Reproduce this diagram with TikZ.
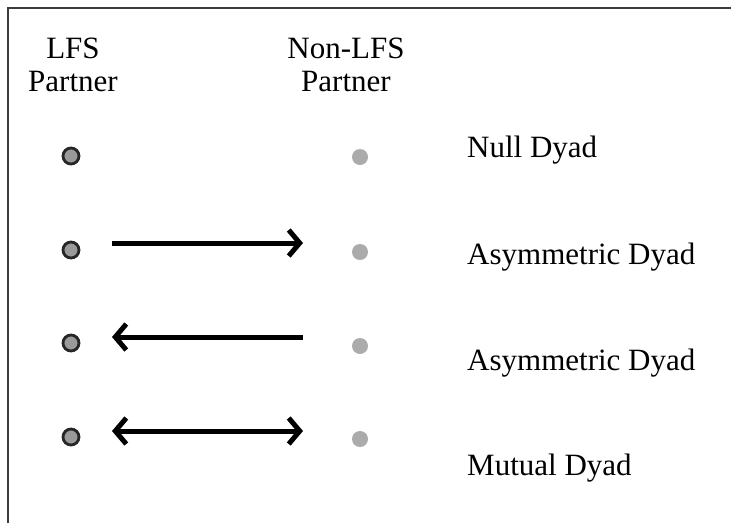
\documentclass[tikz,border=0pt]{standalone}
\usepackage{fontspec}
\setmainfont{Liberation Serif}
\usetikzlibrary{arrows.meta}

\definecolor{framegray}{HTML}{3C3C3C}
\definecolor{lfsfill}{HTML}{9A9A9A}
\definecolor{nonfill}{HTML}{ABABAB}

\tikzset{
  lfsdot/.style={circle,draw=black!85,line width=2.8pt,fill=lfsfill,minimum size=16pt,inner sep=0pt,outer sep=0pt},
  nondot/.style={circle,fill=nonfill,minimum size=16pt,inner sep=0pt,outer sep=0pt},
  tie/.style={line width=5pt,shorten <=33pt,shorten >=49pt},
  barb/.tip={Straight Barb[length=11pt,width=26pt]},
  dyad/.style={anchor=base west,inner sep=0pt}
}

\begin{document}
\begin{tikzpicture}[x=1pt,y=-1pt,every text node part/.style={align=center},
    font=\fontsize{31}{33}\selectfont]

    \useasboundingbox (0,0) rectangle (731,523);

    % --------------------------------------------------------- %
    % ------------- frame (left and top only)
    % --------------------------------------------------------- %
    \draw[framegray,line width=2pt] (8,523) -- (8,8) -- (731,8);

    % --------------------------------------------------------- %
    % ------------- column heads
    % --------------------------------------------------------- %
    \node[inner sep=0pt] (lfshead) at (73,65) {LFS\\Partner};
    \node[inner sep=0pt] (nonhead) at (346,65) {Non-LFS\\Partner};

    % --------------------------------------------------------- %
    % ------------- partners
    % --------------------------------------------------------- %
    \node[lfsdot] (l1) at (71,156) {};
    \node[lfsdot] (l2) at (71,250) {};
    \node[lfsdot] (l3) at (71,343) {};
    \node[lfsdot] (l4) at (71,437) {};

    \node[nondot] (r1) at (360,157) {};
    \node[nondot] (r2) at (360,252) {};
    \node[nondot] (r3) at (360,346) {};
    \node[nondot] (r4) at (360,439) {};

    % --------------------------------------------------------- %
    % ------------- ties
    % --------------------------------------------------------- %
    \draw[tie,-barb] ([yshift=7pt]l2.east) -- ([yshift=9pt]r2.west);
    \draw[tie,barb-] ([yshift=6pt]l3.east) -- ([yshift=9pt]r3.west);
    \draw[tie,barb-barb] ([yshift=6pt]l4.east) -- ([yshift=8pt]r4.west);

    % --------------------------------------------------------- %
    % ------------- dyad types
    % --------------------------------------------------------- %
    \node[dyad] (null) at (467,157) {Null Dyad};
    \node[dyad] (asymA) at (467,264) {Asymmetric Dyad};
    \node[dyad] (asymB) at (467,370) {Asymmetric Dyad};
    \node[dyad] (mutual) at (467,475) {Mutual Dyad};

\end{tikzpicture}
\end{document}
